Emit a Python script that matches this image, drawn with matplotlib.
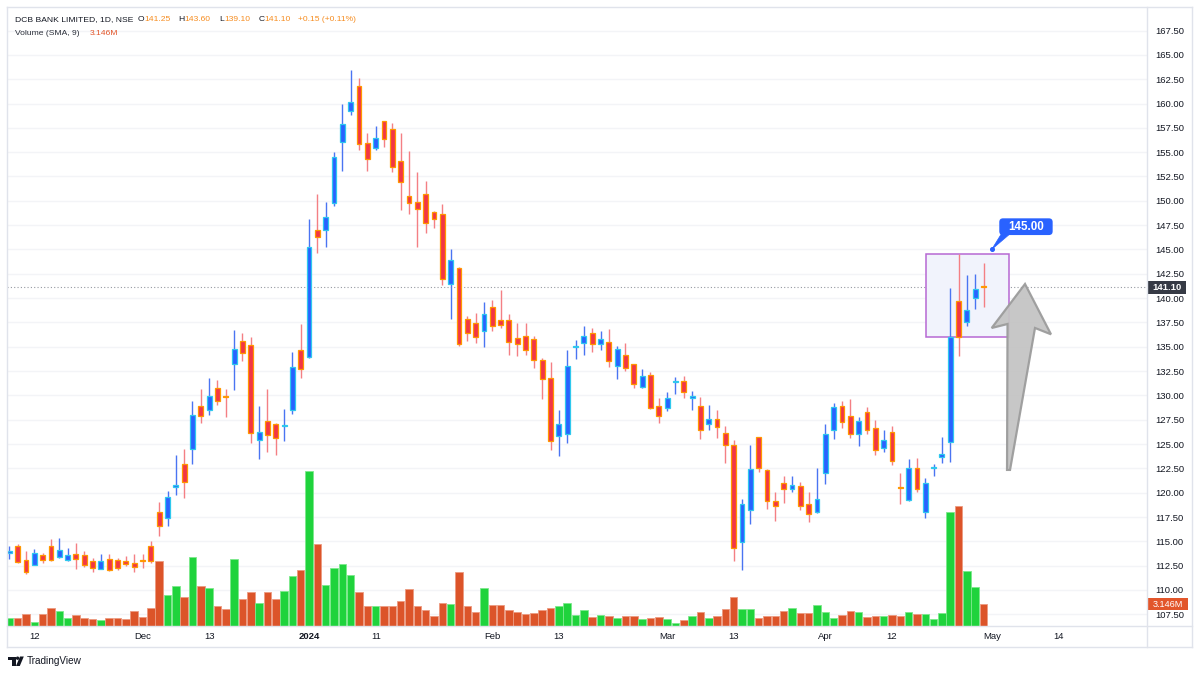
import matplotlib
matplotlib.use('Agg')
import matplotlib.pyplot as plt
import matplotlib.transforms as mtransforms
from matplotlib.patches import Rectangle, Polygon, Circle, FancyBboxPatch
from matplotlib.lines import Line2D
import numpy as np

plt.rcParams['font.family'] = ['Liberation Sans', 'DejaVu Sans']

# ---------------- data (DCB BANK, 1D, NSE) ----------------
opens = [113.8, 114.5, 113.1, 112.6, 113.55, 114.5, 113.4, 113.05, 113.65, 113.55,
         113.0, 112.2, 113.2, 113.1, 112.95, 112.75, 113.05, 114.5, 118.0, 117.4,
         120.6, 122.9, 124.45, 128.95, 128.5, 130.8, 129.95, 133.25, 135.55, 135.15,
         125.4, 127.35, 127.1, 126.9, 128.45, 134.7, 133.9, 146.95, 147.05, 149.8,
         156.0, 159.2, 161.85, 155.9, 155.4, 158.25, 157.4, 154.1, 150.45, 149.9,
         150.75, 148.9, 148.65, 141.5, 143.05, 137.9, 137.4, 136.6, 139.1, 137.8,
         137.8, 135.95, 136.1, 135.75, 133.65, 131.75, 125.85, 126.0, 135.0, 135.4,
         136.45, 135.3, 135.5, 133.0, 134.2, 133.25, 130.85, 132.05, 128.9, 128.75,
         131.35, 131.5, 129.7, 128.95, 127.05, 127.55, 126.1, 124.95, 114.9, 118.25,
         125.7, 122.35, 119.1, 120.95, 120.35, 120.7, 118.85, 118.0, 122.0, 126.45,
         128.9, 127.9, 126.0, 128.25, 126.6, 124.55, 126.2, 120.55, 119.25, 122.5,
         118.0, 122.5, 123.7, 125.25, 139.7, 137.5, 140.0, 141.25]
highs = [114.5, 114.75, 114.0, 114.2, 113.85, 115.2, 115.35, 114.35, 114.8, 114.05,
         113.3, 113.65, 113.75, 113.3, 113.5, 113.65, 113.65, 115.0, 119.0, 120.15,
         123.9, 124.5, 129.45, 130.7, 131.8, 131.6, 130.7, 136.7, 136.4, 136.0,
         128.9, 130.7, 127.15, 128.6, 134.5, 137.35, 148.15, 150.65, 149.9, 155.0,
         159.95, 163.4, 162.6, 156.95, 157.7, 158.25, 158.0, 156.95, 155.1, 153.0,
         152.0, 148.95, 149.7, 145.0, 143.15, 138.15, 138.45, 139.55, 139.85, 140.85,
         138.35, 137.4, 137.4, 136.1, 133.8, 133.4, 128.45, 134.65, 135.7, 137.15,
         136.95, 136.6, 136.85, 135.1, 135.35, 133.25, 132.7, 132.4, 129.7, 130.4,
         131.85, 132.0, 130.5, 129.8, 129.0, 128.55, 126.9, 125.4, 119.35, 124.95,
         125.7, 122.4, 120.05, 121.75, 121.75, 121.15, 120.05, 122.5, 127.05, 129.2,
         129.45, 129.6, 127.75, 128.85, 127.45, 126.45, 126.85, 122.0, 123.45, 123.6,
         121.55, 123.0, 125.75, 141.05, 144.5, 142.4, 142.5, 143.6]
lows = [113.2, 112.8, 111.6, 112.6, 112.8, 113.0, 113.3, 113.0, 112.2, 112.35,
        111.9, 112.15, 111.95, 112.1, 112.5, 111.8, 112.3, 112.8, 115.5, 116.6,
        119.75, 119.45, 122.9, 127.2, 128.0, 129.0, 127.75, 130.6, 133.5, 125.1,
        123.5, 124.2, 123.85, 125.35, 128.1, 131.75, 133.8, 144.6, 145.3, 149.5,
        153.1, 158.8, 155.25, 153.1, 155.2, 155.5, 153.0, 149.05, 148.65, 145.25,
        146.65, 147.25, 141.35, 137.9, 135.1, 135.6, 135.4, 135.0, 136.6, 136.9,
        134.2, 134.1, 134.2, 132.8, 129.6, 124.4, 123.75, 125.15, 133.7, 134.2,
        134.5, 134.65, 132.95, 131.7, 132.55, 130.8, 130.8, 128.6, 127.2, 128.4,
        130.1, 129.7, 128.45, 125.5, 126.45, 125.6, 123.1, 113.0, 112.1, 116.75,
        122.1, 118.35, 117.1, 118.9, 120.1, 118.2, 117.0, 117.95, 120.9, 125.5,
        126.6, 125.6, 124.75, 126.0, 123.9, 124.15, 122.85, 118.8, 119.15, 120.05,
        117.35, 121.7, 123.1, 123.2, 134.0, 137.15, 138.85, 139.1]
closes = [114.0, 112.9, 111.9, 113.8, 113.05, 113.1, 114.15, 113.55, 113.2, 112.6,
          112.3, 113.0, 112.1, 112.3, 112.7, 112.4, 113.0, 113.0, 116.6, 119.55,
          120.8, 121.1, 128.0, 127.85, 129.9, 129.4, 129.85, 134.8, 134.4, 126.1,
          126.25, 125.9, 125.65, 127.0, 132.9, 132.75, 145.25, 146.25, 148.3, 154.5,
          157.85, 160.15, 155.8, 154.25, 156.45, 156.35, 153.5, 151.9, 149.8, 149.15,
          147.7, 148.15, 141.95, 143.9, 135.25, 136.45, 136.05, 138.35, 137.15, 137.25,
          135.5, 135.25, 134.65, 133.65, 131.7, 125.35, 127.05, 133.0, 135.1, 136.1,
          135.3, 135.75, 133.55, 134.75, 132.8, 131.15, 132.0, 128.75, 127.9, 129.7,
          131.45, 130.4, 129.95, 126.45, 127.55, 126.8, 124.9, 114.3, 118.8, 122.4,
          122.5, 119.1, 118.65, 120.35, 120.8, 118.65, 117.8, 119.35, 126.05, 128.85,
          127.3, 126.0, 127.35, 126.45, 124.4, 125.4, 123.25, 120.5, 122.5, 120.4,
          120.95, 122.6, 123.95, 136.05, 136.05, 138.8, 140.95, 141.1]
volumes_m = [1.09, 1.09, 1.76, 0.60, 1.76, 2.60, 2.10, 1.18, 1.57, 1.09,
             0.94, 0.84, 1.18, 1.09, 0.94, 2.10, 1.32, 2.60, 9.5, 4.56,
             5.8, 4.27, 10.1, 5.8, 5.6, 2.9, 2.5, 9.8, 3.9, 4.96,
             3.4, 5.0, 3.9, 5.15, 7.35, 8.2, 22.7, 11.96, 5.96, 8.4,
             9.1, 7.4, 5.0, 2.85, 2.85, 2.95, 2.85, 3.56, 5.4, 2.95,
             2.3, 1.49, 3.35, 3.15, 7.94, 2.9, 2.06, 5.6, 3.1, 3.1,
             2.3, 2.06, 1.72, 1.8, 2.3, 2.56, 2.9, 3.3, 1.57, 2.3,
             1.32, 1.6, 1.45, 1.09, 1.45, 1.45, 0.94, 1.2, 1.32, 0.94,
             0.35, 0.85, 1.45, 1.97, 1.2, 1.45, 2.46, 4.27, 2.4, 2.4,
             1.2, 1.45, 1.45, 2.2, 2.56, 1.8, 1.8, 3.04, 2.06, 1.2,
             1.6, 2.2, 2.06, 1.32, 1.45, 1.45, 1.5, 1.45, 2.06, 1.72,
             1.72, 0.94, 1.9, 16.7, 17.6, 8.0, 5.65, 3.146]

date_tick_pos = [3, 16, 24, 36, 44, 58, 66, 79, 87, 98, 106, 118, 126]
date_tick_labels = ['12', 'Dec', '13', '2024', '11', 'Feb', '13', 'Mar', '13', 'Apr', '12', 'May', '14']
price_ticks = [107.5 + 2.5 * k for k in range(25)]

last_price = 141.10
target_price = 145.00
box_x = [110.1, 120.06]
box_p = [135.97, 144.5]
arrow_pts = [(119.82, 122.34), (119.88, 137.34), (117.98, 136.93), (121.98, 141.45),
             (125.1, 136.28), (123.18, 136.93), (120.18, 122.34)]

# ---------------- figure ----------------
W, H = 1200, 675
fig = plt.figure(figsize=(12, 6.75), dpi=100)
fig.patch.set_facecolor('white')
pix = mtransforms.Affine2D().scale(1 / W, -1 / H).translate(0, 1) + fig.transFigure

L, R, T, B = 7, 1147, 7, 625.7
rect = [L / W, 1 - B / H, (R - L) / W, (B - T) / H]
axv = fig.add_axes(rect)
ax = fig.add_axes(rect)
ax.set_facecolor('none')

n = len(opens)
x = np.arange(n)
o = np.array(opens); c = np.array(closes); hi = np.array(highs); lo = np.array(lows)
v = np.array(volumes_m)
up = c > o

xlim = (-0.276, 136.63)
ylim = (106.33, 169.92)
for a in (ax, axv):
    a.set_xlim(*xlim)
    for s in a.spines.values():
        s.set_visible(False)
ax.set_ylim(*ylim)
axv.set_ylim(0, 90.84)
axv.set_xticks([]); axv.set_yticks([])

# grid behind everything
gtf = mtransforms.blended_transform_factory(axv.transAxes, ax.transData)
for p in price_ticks:
    axv.plot([0, 1], [p, p], transform=gtf, color='#f3f4f7', lw=1, zorder=0)

# volume
vcol = np.where(up, '#1fd33c', '#dc5429')
vedge = np.where(up, '#7de88c', '#ec9a80')
axv.bar(x, v, width=0.9, color=vcol, edgecolor=vedge, linewidth=0.6, zorder=2)

# last price dotted line
ax.axhline(last_price, color='#9598a1', lw=0.8, ls=(0, (1, 2)), zorder=1)

# purple box
ax.add_patch(Rectangle((box_x[0], box_p[0]), box_x[1] - box_x[0], box_p[1] - box_p[0],
                       facecolor='#f1f3fc', edgecolor='#b768d3', lw=1.1, zorder=1.5))

# candles
wick_col = np.where(up, '#4a74f2', '#f47f84')
body_col = np.where(up, '#2962ff', '#f23645')
edge_col = np.where(up, '#2ec8ee', '#ff9800')
ax.vlines(x, lo, hi, colors=wick_col, lw=1.0, zorder=2)
body_lo = np.minimum(o, c)
body_h = np.maximum(np.abs(c - o), 0.08)
ax.bar(x, body_h, bottom=body_lo, width=0.58, color=body_col, edgecolor=edge_col,
       linewidth=0.9, zorder=3)

# grey arrow
ax.add_patch(Polygon(arrow_pts, closed=True, facecolor='#c4c4c4', edgecolor='#9c9c9c',
                     lw=1.6, alpha=0.95, zorder=4, joinstyle='miter'))

# 145.00 callout
aspect = (1 / 9.73) / (1 / 8.327)
ax.add_patch(FancyBboxPatch((118.89, 146.48), 125.30 - 118.89, 148.20 - 146.48,
                            boxstyle='round,pad=0,rounding_size=0.45', mutation_aspect=aspect,
                            facecolor='#2962ff', edgecolor='none', zorder=6))
ax.add_patch(Polygon([(119.15, 146.62), (120.2, 146.62), (117.98, 145.0)], closed=True,
                     facecolor='#2962ff', edgecolor='#2962ff', lw=0.5, zorder=6))
ax.plot([118.0], [target_price], 'o', ms=2.6, color='#2962ff', zorder=6)
ax.text(122.1, 147.34, f'{target_price:.2f}', ha='center', va='center', color='white',
        fontweight='bold', fontsize=8.4, zorder=7)

# axes ticks
ax.yaxis.tick_right()
ax.set_yticks(price_ticks)
ax.set_yticklabels([f'{p:.2f}' for p in price_ticks])
ax.tick_params(axis='y', length=0, pad=6, labelsize=6.8, labelcolor='#131722')
ax.set_xticks(date_tick_pos)
ax.set_xticklabels(date_tick_labels)
ax.tick_params(axis='x', length=0, pad=4.5, labelsize=6.8, labelcolor='#131722')
for t in ax.get_xticklabels():
    if t.get_text() == '2024':
        t.set_fontweight('bold')

# last price label on axis
ltf = mtransforms.blended_transform_factory(ax.transAxes, ax.transData)
ax.add_patch(Rectangle((1.0006, last_price - 0.64), 0.0336, 1.28, transform=ltf,
                       facecolor='#363a45', edgecolor='none', clip_on=False, zorder=9))
ax.text(1.0174, last_price, f'{last_price:.2f}', transform=ltf, ha='center', va='center',
        color='white', fontsize=6.8, fontweight='bold', zorder=10, clip_on=False)

# volume label on axis
vtf = mtransforms.blended_transform_factory(ax.transAxes, axv.transData)
last_vol = volumes_m[-1]
ax.add_patch(Rectangle((1.0006, last_vol - 0.91), 0.0356, 1.82, transform=vtf,
                       facecolor='#e2562b', edgecolor='none', clip_on=False, zorder=9))
ax.text(1.0184, last_vol, f'{last_vol:.3f}M', transform=vtf, ha='center', va='center',
        color='white', fontsize=6.6, zorder=10, clip_on=False)

# frame lines
fc = '#e0e3eb'
for (x0, y0, x1, y1) in [(7, 7, 1192, 7), (7, 647, 1192, 647), (7, 7, 7, 647),
                         (1192, 7, 1192, 647), (1147, 7, 1147, 647), (7, 625.7, 1192, 625.7)]:
    fig.add_artist(Line2D([x0, x1], [y0, y1], transform=pix, color=fc, lw=1, zorder=0.5))

# header
dark = '#131722'
orng = '#f68c1f'
hs = 6.1
renderer = fig.canvas.get_renderer()

def seq(x0, y0, parts, size):
    xx = x0
    for s, col in parts:
        t = fig.text(xx, y0, s, color=col, fontsize=size, va='center', ha='left', transform=pix)
        bb = t.get_window_extent(renderer=renderer)
        xx += bb.width

seq(15, 19.5, [('DCB BANK LIMITED, 1D, NSE', dark)], hs)
seq(137.5, 19.5, [('O', dark), ('141.25', orng)], hs)
seq(178.5, 19.5, [('H', dark), ('143.60', orng)], hs)
seq(219.5, 19.5, [('L', dark), ('139.10', orng)], hs)
seq(258.5, 19.5, [('C', dark), ('141.10', orng)], hs)
seq(298.5, 19.5, [('+0.15 (+0.11%)', orng)], hs)
seq(15, 33.5, [('Volume (SMA, 9)', '#2a2e39')], hs)
seq(90, 33.5, [('3.146M', '#e2562b')], hs)

# TradingView logo
logo = '#131722'
fig.add_artist(Polygon([(8, 656.5), (15.5, 656.5), (15.5, 666), (12, 666), (12, 659.8), (8, 659.8)],
                       closed=True, transform=pix, facecolor=logo, edgecolor='none', zorder=2))
fig.add_artist(Circle((17.6, 658.2), 1.7, transform=pix, facecolor=logo, edgecolor='none', zorder=2))
fig.add_artist(Polygon([(20, 656.5), (23.8, 656.5), (19.8, 666), (16, 666)], closed=True,
                       transform=pix, facecolor=logo, edgecolor='none', zorder=2))
fig.text(27, 661, 'TradingView', transform=pix, fontsize=7.2, color=logo, va='center', ha='left')

fig.savefig('out.png', dpi=100, facecolor='white')
